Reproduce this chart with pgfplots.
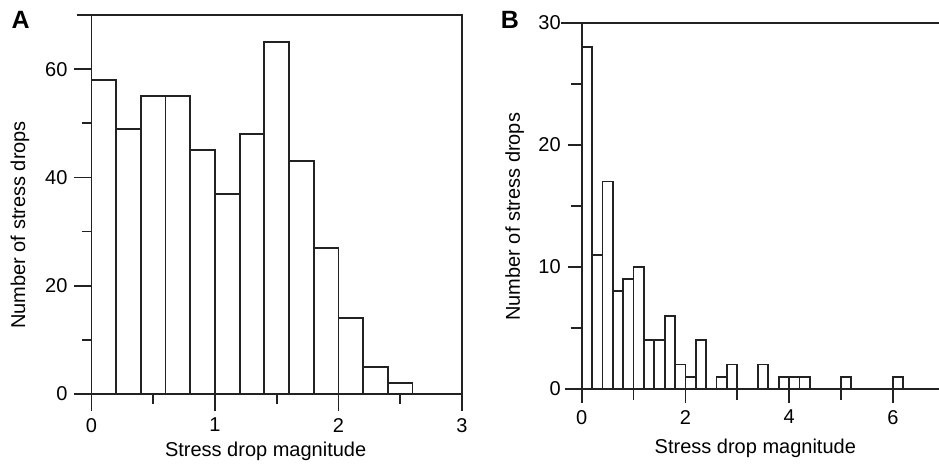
\documentclass[border=0pt]{standalone}
\usepackage{fontspec}
\setmainfont{Liberation Sans}
\usepackage{pgfplots}
\pgfplotsset{compat=1.18}
\definecolor{ink}{HTML}{222222}
\pgfplotsset{
  hist/.style={
    scale only axis,
    clip=false,
    axis line style={ink, line width=0.9pt, -},
    every tick/.style={ink, line width=0.9pt},
    tick align=outside,
    tick pos=left,
    /pgf/number format/assume math mode=true,
    tick label style={font=\fontsize{10}{12}\selectfont, text=black},
    label style={font=\fontsize{10}{12}\selectfont, text=black},
  },
  bars/.style={ybar, bar width=0.2, bar shift=0pt, fill=white, draw=ink, line width=0.9pt},
}
\begin{document}
\begin{tikzpicture}[x=1pt,y=1pt]
\useasboundingbox (0,0) rectangle (469.5,233.5);
% Panel A
\begin{axis}[hist,
  at={(45.75pt,36.5pt)}, anchor=south west,
  width=185.25pt, height=189.5pt,
  xmin=0, xmax=3, ymin=0, ymax=70,
  xtick={0,1,2,3}, minor xtick={0.5,1.5,2.5},
  ytick={0,20,40,60}, minor ytick={10,30,50},
  major tick length=8.5pt, minor tick length=4.75pt,
  xlabel={Stress drop magnitude},
  ylabel={Number of stress drops},
  xlabel style={at={(axis description cs:0.470,-0.166)}, anchor=base},
  ylabel style={at={(axis description cs:-0.179,0.446)}, anchor=base, rotate=0},
]
\addplot[bars] coordinates {
(0.1,58) (0.3,49) (0.5,55) (0.7,55) (0.9,45) (1.1,37) (1.3,48)
(1.5,65) (1.7,43) (1.9,27) (2.1,14) (2.3,5) (2.5,2)};
\draw[ink, line width=0.9pt] (axis cs:-0.134,0) -- (axis cs:0,0);
\draw[ink, line width=0.9pt] (axis cs:-0.12,70) -- (axis cs:0,70);
\end{axis}
% Panel B
\begin{axis}[hist,
  at={(290.85pt,39pt)}, anchor=south west,
  width=178.65pt, height=183.15pt,
  axis y line*=left,
  xmin=0, xmax=6.89, ymin=0, ymax=30,
  xtick={0,2,4,6}, minor xtick={1,3,5},
  ytick={0,10,20,30}, minor ytick={5,15,25},
  major tick length=7pt, minor tick length=5.5pt,
  xlabel={Stress drop magnitude},
  ylabel={Number of stress drops},
  xlabel style={at={(axis description cs:0.486,-0.175)}, anchor=base},
  ylabel style={at={(axis description cs:-0.173,0.470)}, anchor=base, rotate=0},
]
\addplot[bars] coordinates {
(0.1,28) (0.3,11) (0.5,17) (0.7,8) (0.9,9) (1.1,10) (1.3,4) (1.5,4)
(1.7,6) (1.9,2) (2.1,1) (2.3,4) (2.7,1) (2.9,2) (3.5,2) (3.9,1)
(4.1,1) (4.3,1) (5.1,1) (6.1,1)};
\draw[ink, line width=0.9pt] (axis cs:-0.32,0) -- (axis cs:0,0);
\draw[ink, line width=0.9pt] (axis cs:-0.40,30) -- (axis cs:0,30);
\end{axis}
\node[font=\bfseries\fontsize{12.5}{14}\selectfont, anchor=base west, inner sep=0pt] at (5.6,219.35) {A};
\node[font=\bfseries\fontsize{12.5}{14}\selectfont, anchor=base west, inner sep=0pt] at (250.2,219.35) {B};
\end{tikzpicture}
\end{document}
